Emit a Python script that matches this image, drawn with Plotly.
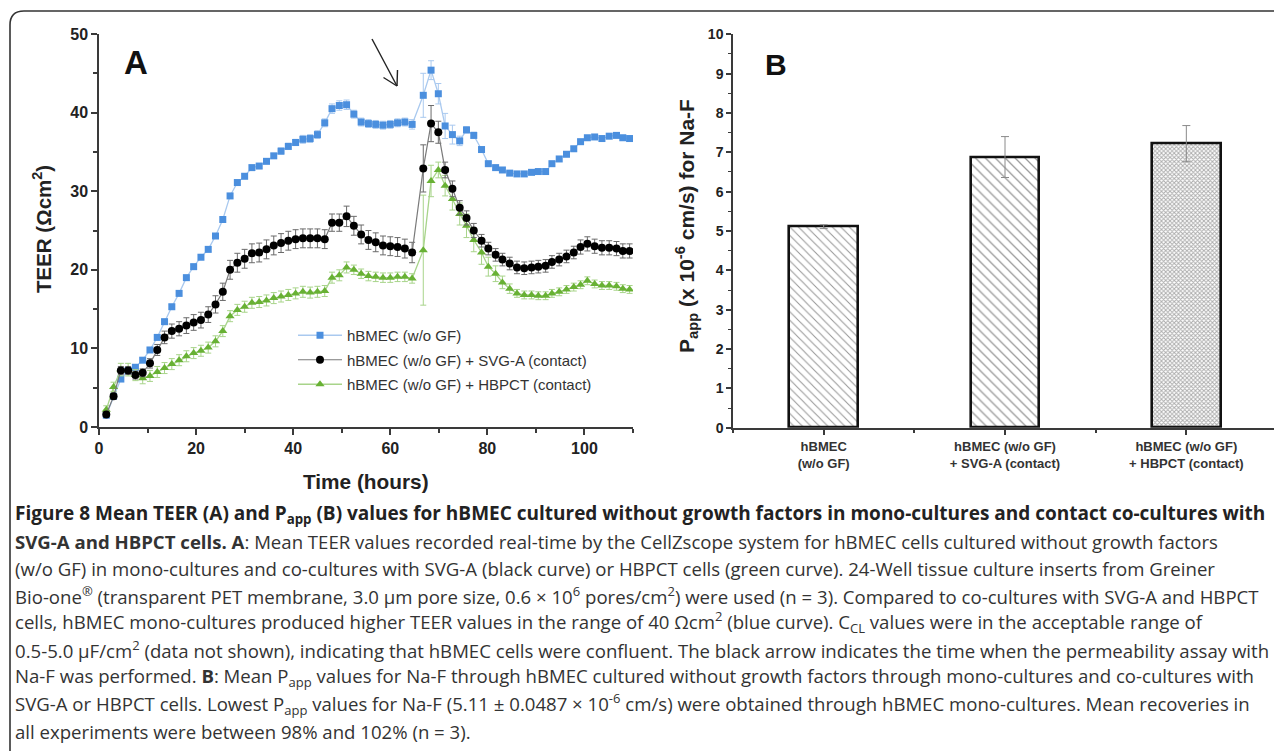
import plotly.graph_objects as go

# The page body has an 8px default margin, so the figure is drawn 8px in from the
# top-left corner of the window; the figure is sized to fill the rest of the window.
OFF = 8
W, H = 1282 - OFF, 751 - OFF

# ---------------- Panel A data (time in hours, TEER in Ohm*cm2) ----------------
time_h = [1.5, 3.0, 4.5, 6.0, 7.5, 9.0, 10.5, 12.0, 13.5, 15.0, 16.5, 18.0, 19.5, 21.0,
          22.5, 24.0, 25.5, 27.0, 28.5, 30.0, 31.5, 33.0, 34.5, 36.0, 37.5, 39.0, 40.5,
          42.0, 43.5, 45.0, 46.5, 48.0, 49.5, 51.0, 52.5, 54.0, 55.5, 57.0, 58.5, 60.0,
          61.5, 63.0, 64.5,
          66.8, 68.4, 69.9, 71.3, 72.8, 74.3, 75.7, 77.2, 78.8, 80.2, 81.7, 83.1, 84.6,
          86.1, 87.6, 89.1, 90.5, 92.0, 93.3, 94.8, 96.3, 97.8, 99.2, 100.6, 102.1,
          103.6, 105.1, 106.6, 107.9, 109.3]

teer_mono = [1.5, 3.9, 6.1, 7.2, 7.6, 8.5, 9.8, 11.4, 13.4, 15.3, 17.0, 19.0, 20.4, 21.6,
             22.6, 24.3, 26.4, 29.4, 31.1, 31.9, 33.0, 33.2, 33.8, 34.5, 35.1, 35.7, 36.2,
             36.6, 36.7, 37.2, 38.7, 40.5, 40.9, 41.0, 39.8, 38.8, 38.6, 38.5, 38.4, 38.5,
             38.7, 38.8, 38.5,
             42.2, 45.4, 42.4, 38.3, 37.2, 36.4, 37.8, 37.1, 35.3, 33.5, 33.0, 32.7, 32.3,
             32.2, 32.2, 32.4, 32.5, 32.5, 33.5, 34.1, 34.7, 35.4, 36.3, 36.8, 36.9, 36.7,
             37.0, 37.1, 36.8, 36.7]
err_mono = [0.3, 0.3, 0.3, 0.3, 0.3, 0.3, 0.3, 0.3, 0.3, 0.3, 0.3, 0.3, 0.3, 0.3,
            0.3, 0.3, 0.3, 0.3, 0.3, 0.3, 0.3, 0.3, 0.3, 0.3, 0.4, 0.4, 0.4, 0.5, 0.5,
            0.5, 0.5, 0.6, 0.6, 0.6, 0.5, 0.5, 0.5, 0.5, 0.5, 0.5, 0.5, 0.5, 0.6,
            2.8, 1.2, 1.3, 1.6, 1.2, 0.6, 0.4, 0.4, 0.3, 0.3, 0.3, 0.3, 0.3, 0.3, 0.3,
            0.3, 0.3, 0.3, 0.3, 0.3, 0.3, 0.3, 0.3, 0.3, 0.3, 0.3, 0.3, 0.3, 0.3, 0.3]

teer_svga = [1.6, 3.9, 7.2, 7.2, 6.6, 6.9, 8.1, 9.8, 11.4, 12.2, 12.5, 12.9, 13.3, 13.6,
             14.3, 15.6, 17.2, 20.0, 20.9, 21.4, 22.1, 22.2, 22.6, 23.1, 23.4, 23.7, 23.9,
             24.0, 24.0, 24.0, 23.9, 26.0, 26.0, 26.8, 25.6, 24.5, 23.8, 23.5, 23.1, 23.0,
             22.9, 22.7, 22.2,
             32.9, 38.6, 37.5, 32.7, 30.3, 27.9, 26.6, 25.0, 23.7, 22.7, 21.9, 21.3, 20.8,
             20.3, 20.2, 20.3, 20.4, 20.5, 21.0, 21.3, 21.7, 22.2, 22.9, 23.3, 23.0, 22.8,
             22.8, 22.7, 22.4, 22.4]
err_svga = [0.3, 0.4, 0.5, 0.5, 0.5, 0.5, 0.6, 0.7, 0.8, 0.9, 0.9, 1.0, 1.0, 1.0,
            1.0, 1.1, 1.1, 1.2, 1.2, 1.2, 1.2, 1.2, 1.2, 1.2, 1.2, 1.2, 1.2, 1.2, 1.2,
            1.2, 1.2, 1.1, 1.1, 1.3, 1.2, 1.2, 1.2, 1.2, 1.2, 1.2, 1.2, 1.2, 1.3,
            3.0, 2.3, 1.4, 1.0, 1.0, 0.9, 0.9, 0.9, 0.8, 0.8, 0.8, 0.8, 0.8, 0.8, 0.8,
            0.8, 0.8, 0.8, 0.8, 0.8, 0.8, 0.8, 0.9, 0.9, 0.9, 0.9, 0.9, 0.9, 0.9, 0.9]

teer_hbpct = [2.2, 5.1, 7.3, 7.3, 6.6, 6.2, 6.5, 7.0, 7.5, 8.0, 8.5, 9.0, 9.4, 9.7,
              10.1, 10.9, 12.2, 14.1, 14.9, 15.3, 15.8, 15.9, 16.1, 16.4, 16.6, 16.8, 17.0,
              17.2, 17.1, 17.2, 17.3, 19.0, 19.3, 20.3, 20.0, 19.5, 19.2, 19.1, 19.0, 19.0,
              19.1, 19.1, 18.9,
              22.5, 31.3, 32.7, 30.7, 29.0, 27.1, 25.6, 23.8, 22.2, 20.4, 19.5, 18.4, 17.6,
              17.0, 16.8, 16.8, 16.7, 16.7, 17.0, 17.2, 17.5, 17.8, 18.1, 18.6, 18.2, 18.0,
              18.0, 17.9, 17.6, 17.5]
err_hbpct = [0.5, 0.6, 0.8, 0.8, 0.7, 0.7, 0.7, 0.7, 0.7, 0.7, 0.7, 0.7, 0.7, 0.7,
             0.7, 0.7, 0.7, 0.7, 0.7, 0.7, 0.7, 0.7, 0.7, 0.7, 0.7, 0.7, 0.7, 0.7, 0.7,
             0.7, 0.7, 0.7, 0.7, 0.7, 0.6, 0.6, 0.6, 0.6, 0.6, 0.6, 0.6, 0.6, 0.6,
             7.0, 2.0, 1.0, 1.3, 1.4, 1.4, 1.5, 1.5, 1.5, 1.2, 1.0, 0.8, 0.6, 0.5, 0.5,
             0.5, 0.5, 0.5, 0.5, 0.5, 0.5, 0.5, 0.5, 0.5, 0.5, 0.5, 0.5, 0.5, 0.5, 0.5]

series_names = ["hBMEC (w/o GF)",
                "hBMEC (w/o GF) + SVG-A (contact)",
                "hBMEC (w/o GF) + HBPCT (contact)"]

# ---------------- Panel B data (Papp x 1e-6 cm/s) ----------------
bar_labels = ["hBMEC<br>(w/o GF)",
              "hBMEC (w/o GF)<br>+ SVG-A (contact)",
              "hBMEC (w/o GF)<br>+ HBPCT (contact)"]
bar_pos = [0, 1, 2]
papp = [5.11, 6.88, 7.22]
papp_err = [0.0487, 0.52, 0.46]

# ---------------- helpers (window pixels -> paper fractions) ----------------
def px(x):
    return (x - OFF) / W

def py(y):
    return 1 - (y - OFF) / H

AX_COL = "#3a3a3a"
TICKFONT = dict(family="Liberation Sans, Arial, sans-serif", size=16, color="#222", weight="bold")

fig = go.Figure()

# Panel A traces (draw order: blue, green, black; legend order via legendrank)
fig.add_trace(go.Scatter(
    x=time_h, y=teer_mono, name=series_names[0], mode="lines+markers",
    line=dict(color="#a9c9ef", width=1.3),
    marker=dict(symbol="square", size=7, color="#4b8fde"),
    error_y=dict(type="data", array=err_mono, color="#a9c9ef", thickness=1, width=3),
    legendrank=1, legendgroup="a", xaxis="x", yaxis="y"))
fig.add_trace(go.Scatter(
    x=time_h, y=teer_hbpct, name=series_names[2], mode="lines+markers",
    line=dict(color="#a8d48a", width=1.3),
    marker=dict(symbol="triangle-up", size=8, color="#68b134"),
    error_y=dict(type="data", array=err_hbpct, color="#a8d48a", thickness=1, width=3),
    legendrank=3, legendgroup="c", xaxis="x", yaxis="y"))
fig.add_trace(go.Scatter(
    x=time_h, y=teer_svga, name=series_names[1], mode="lines+markers",
    line=dict(color="#7a7a7a", width=1.2),
    marker=dict(symbol="circle", size=8, color="#000000"),
    error_y=dict(type="data", array=err_svga, color="#6a6a6a", thickness=1, width=3),
    legendrank=2, legendgroup="b", xaxis="x", yaxis="y"))

# Panel B bars
fig.add_trace(go.Bar(
    x=bar_pos, y=papp, width=0.38, showlegend=False,
    marker=dict(color="white", line=dict(color="#111", width=2.6),
                pattern=dict(shape=["\\", "\\", "x"], size=[6, 7, 3],
                             solidity=[0.18, 0.18, 0.55],
                             fgcolor=["#333", "#333", "#5a5a5a"], bgcolor="white")),
    error_y=dict(type="data", array=papp_err, color="#8a8a8a", thickness=1, width=4),
    xaxis="x2", yaxis="y2"))

axis_common = dict(showline=True, linecolor=AX_COL, linewidth=1.5, ticks="outside",
                   tickcolor=AX_COL, tickwidth=1.5, showgrid=False, zeroline=False,
                   automargin=False)

fig.update_layout(
    width=W, height=H,
    margin=dict(l=0, r=0, t=0, b=0, pad=0, autoexpand=False),
    autosize=False,
    paper_bgcolor="white", plot_bgcolor="white",
    bargap=0,
    xaxis=dict(domain=[px(99), px(633)], range=[0, 110], anchor="y",
               tickmode="linear", tick0=0, dtick=20, ticklen=6, tickfont=TICKFONT,
               minor=dict(dtick=10, ticklen=4, tickcolor=AX_COL, tickwidth=1.5, ticks="outside"),
               **axis_common),
    yaxis=dict(domain=[py(427), py(34)], range=[0, 50], anchor="x",
               tickmode="linear", tick0=0, dtick=10, ticklen=6, tickfont=TICKFONT,
               minor=dict(dtick=5, ticklen=4, tickcolor=AX_COL, tickwidth=1.5, ticks="outside"),
               **axis_common),
    xaxis2=dict(domain=[px(733), px(1277)], range=[-0.5, 2.5], anchor="y2",
                tickmode="array", tickvals=bar_pos, ticktext=bar_labels, ticklen=6,
                tickfont=dict(family="Liberation Sans, Arial, sans-serif", size=13,
                              color="#333", weight="bold"),
                minor=dict(tickmode="array", tickvals=[-0.5, 0.5, 1.5, 2.5], ticklen=4,
                           tickcolor=AX_COL, tickwidth=1.5, ticks="outside"),
                **axis_common),
    yaxis2=dict(domain=[py(427.7), py(34.3)], range=[0, 10], anchor="x2",
                tickmode="linear", tick0=0, dtick=1, ticklen=5,
                tickfont=dict(family="Liberation Sans Narrow, Liberation Sans, Arial, sans-serif",
                              size=14, color="#222", weight="bold"),
                minor=dict(dtick=0.5, ticklen=3, tickcolor=AX_COL, tickwidth=1.2, ticks="outside"),
                **axis_common),
    legend=dict(x=px(293), y=py(319), xanchor="left", yanchor="top",
                bgcolor="rgba(0,0,0,0)", traceorder="grouped", tracegroupgap=2,
                itemwidth=44,
                font=dict(family="Liberation Sans, Arial, sans-serif", size=15, color="#333")),
    showlegend=True,
)

annotations = []
# panel letters (anchor points tuned to where this renderer places the text)
annotations.append(dict(x=px(122), y=py(42), xref="paper", yref="paper", text="<b>A</b>",
                        align="left", showarrow=False,
                        font=dict(family="Liberation Sans, Arial", size=33, color="#111")))
annotations.append(dict(x=px(776), y=py(46), xref="paper", yref="paper", text="<b>B</b>",
                        align="left", showarrow=False,
                        font=dict(family="Liberation Sans, Arial", size=30, color="#111")))
# axis titles
annotations.append(dict(x=px(27), y=py(163), xref="paper", yref="paper",
                        text="<b>TEER (Ωcm<sup>2</sup>)</b>", textangle=-90, showarrow=False,
                        align="left",
                        font=dict(family="Liberation Sans, Arial", size=20.5, color="#222")))
annotations.append(dict(x=px(301), y=py(481), xref="paper", yref="paper",
                        text="<b>Time (hours)</b>", showarrow=False, align="left",
                        font=dict(family="Liberation Sans, Arial", size=20.8, color="#222")))
annotations.append(dict(x=px(686), y=py(97), xref="paper", yref="paper",
                        text="<b>P<sub>app</sub> (x 10<sup>-6</sup> cm/s) for Na-F</b>",
                        textangle=-90, showarrow=False, align="left",
                        font=dict(family="Liberation Sans, Arial", size=21, color="#222")))

# caption lines
caption = [
    ("<b>Figure 8 Mean TEER (A) and P<sub>app</sub> (B) values for hBMEC cultured without growth factors in mono-cultures and contact co-cultures with</b>", 514),
    ("<b>SVG-A and HBPCT cells. A</b>: Mean TEER values recorded real-time by the CellZscope system for hBMEC cells cultured without growth factors", 541),
    ("(w/o GF) in mono-cultures and co-cultures with SVG-A (black curve) or HBPCT cells (green curve). 24-Well tissue culture inserts from Greiner", 568),
    ("Bio-one<sup>®</sup> (transparent PET membrane, 3.0 μm pore size, 0.6 × 10<sup>6</sup> pores/cm<sup>2</sup>) were used (n = 3). Compared to co-cultures with SVG-A and HBPCT", 595),
    ("cells, hBMEC mono-cultures produced higher TEER values in the range of 40 Ωcm<sup>2</sup> (blue curve). C<sub>CL</sub> values were in the acceptable range of", 622),
    ("0.5-5.0 μF/cm<sup>2</sup> (data not shown), indicating that hBMEC cells were confluent. The black arrow indicates the time when the permeability assay with", 649),
    ("Na-F was performed. <b>B</b>: Mean P<sub>app</sub> values for Na-F through hBMEC cultured without growth factors through mono-cultures and co-cultures with", 677),
    ("SVG-A or HBPCT cells. Lowest P<sub>app</sub> values for Na-F (5.11 ± 0.0487 × 10<sup>-6</sup> cm/s) were obtained through hBMEC mono-cultures. Mean recoveries in", 704),
    ("all experiments were between 98% and 102% (n = 3).", 731),
]
for i, (txt, yy) in enumerate(caption):
    annotations.append(dict(x=px(13), y=py(yy), xref="paper", yref="paper", text=txt,
                            xanchor="left", yanchor="middle", showarrow=False, align="left",
                            font=dict(family="Open Sans, Noto Sans, sans-serif",
                                      size=19.0 if i == 0 else 18.6,
                                      color="#222" if i == 0 else "#333")))
fig.update_layout(annotations=annotations)

# decorative shapes: frame and arrow
shapes = []
shapes.append(dict(type="path", xref="paper", yref="paper",
                   path=f"M {px(10)},{py(770)} L {px(10)},{py(25)} Q {px(10)},{py(11)} {px(24)},{py(11)} L {px(1300)},{py(11)}",
                   line=dict(color="#333", width=1.6)))
for (x0, y0, x1, y1) in [(372, 39, 397, 86), (397, 86, 383.5, 77.5), (397, 86, 397.5, 70)]:
    shapes.append(dict(type="line", xref="paper", yref="paper",
                       x0=px(x0), y0=py(y0), x1=px(x1), y1=py(y1),
                       line=dict(color="#222", width=1.4)))
fig.update_layout(shapes=shapes)

fig.write_html("out.html")
